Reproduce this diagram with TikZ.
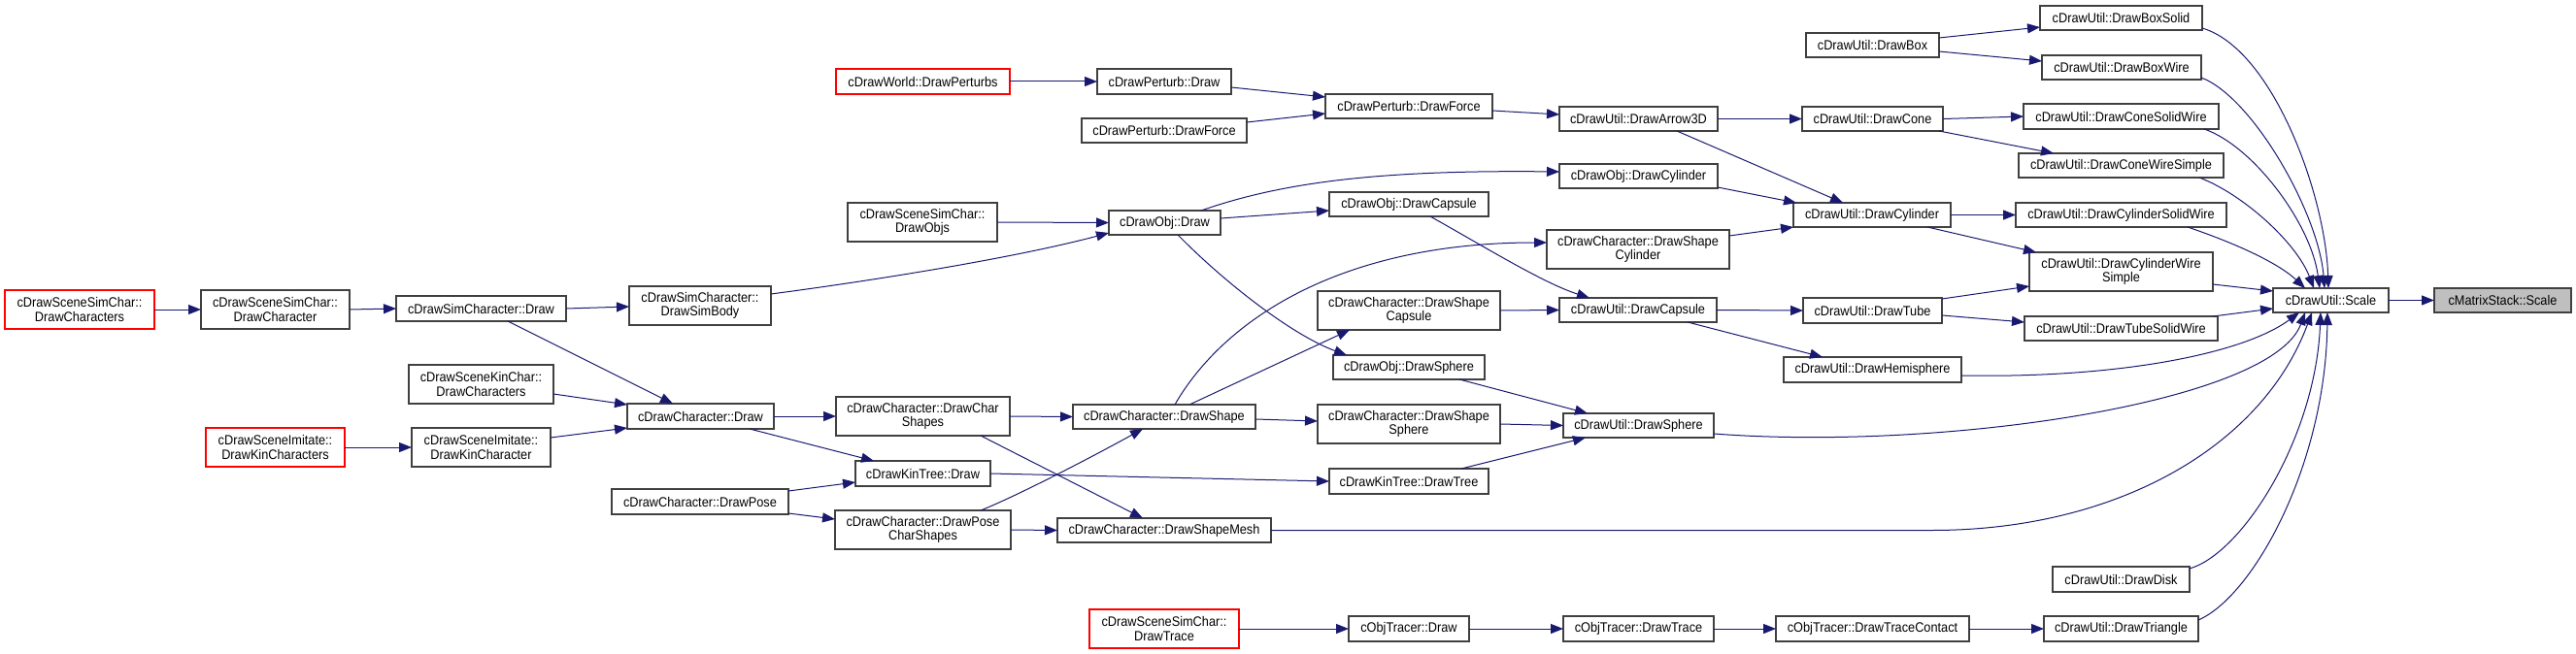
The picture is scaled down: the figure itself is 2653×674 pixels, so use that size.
\documentclass[tikz,border=0pt]{standalone}
\usepackage{fontspec}
\setmainfont{Liberation Sans}[FakeStretch=0.91]
\usetikzlibrary{arrows.meta,calc}
\definecolor{edgecol}{HTML}{191970}
\definecolor{boxcol}{HTML}{404040}
\definecolor{grayfill}{HTML}{BFBFBF}
\tikzset{
  fn/.style={draw=boxcol, line width=1.2pt, fill=white, inner sep=1pt, outer sep=0pt,
    align=center, font=\fontsize{14}{14.5}\selectfont, text=black},
  fnred/.style={fn, draw=red},
  fncur/.style={fn, fill=grayfill},
  call/.style={draw=edgecol, line width=1pt, -{Triangle[length=13pt,width=10pt]}},
}
\newcommand\gbox[7]{\node[#1, minimum width={(#5-#3)*1pt}, minimum height={(#6-#4)*1pt}] (#2) at ({(#3+#5)/2},{(#4+#6)/2}) {#7};}
\begin{document}
\begin{tikzpicture}[x=1pt,y=-1pt]
\useasboundingbox (0,0) rectangle (2653,674);
% nodes
\gbox{fnred}{sscChars}{5}{299}{159}{339}{cDrawSceneSimChar::\\DrawCharacters}
\gbox{fn}{sscChar}{207}{299}{360}{339}{cDrawSceneSimChar::\\DrawCharacter}
\gbox{fn}{simDraw}{408}{305}{583}{331}{cDrawSimCharacter::Draw}
\gbox{fn}{simBody}{648}{295}{794}{335}{cDrawSimCharacter::\\DrawSimBody}
\gbox{fnred}{perturbs}{861}{71}{1040}{97}{cDrawWorld::DrawPerturbs}
\gbox{fn}{objs}{873}{209}{1027}{249}{cDrawSceneSimChar::\\DrawObjs}
\gbox{fn}{kinChars}{421}{376}{570}{416}{cDrawSceneKinChar::\\DrawCharacters}
\gbox{fnred}{imKinChars}{212}{441}{355}{481}{cDrawSceneImitate::\\DrawKinCharacters}
\gbox{fn}{imKinChar}{424}{441}{567}{481}{cDrawSceneImitate::\\DrawKinCharacter}
\gbox{fn}{chDraw}{646}{416}{797}{442}{cDrawCharacter::Draw}
\gbox{fn}{pose}{630}{504}{812}{530}{cDrawCharacter::DrawPose}
\gbox{fn}{charShapes}{861}{409}{1040}{449}{cDrawCharacter::DrawChar\\Shapes}
\gbox{fn}{kinDraw}{881}{475}{1020}{501}{cDrawKinTree::Draw}
\gbox{fn}{poseShapes}{860}{526}{1041}{566}{cDrawCharacter::DrawPose\\CharShapes}
\gbox{fn}{pDraw}{1130}{71}{1268}{97}{cDrawPerturb::Draw}
\gbox{fn}{force1}{1114}{122}{1284}{147}{cDrawPerturb::DrawForce}
\gbox{fn}{objDraw}{1142}{217}{1257}{242}{cDrawObj::Draw}
\gbox{fn}{shape}{1105}{417}{1293}{442}{cDrawCharacter::DrawShape}
\gbox{fn}{mesh}{1089}{534}{1309}{559}{cDrawCharacter::DrawShapeMesh}
\gbox{fnred}{trace}{1122}{628}{1276}{668}{cDrawSceneSimChar::\\DrawTrace}
\gbox{fn}{force2}{1365}{97}{1537}{122}{cDrawPerturb::DrawForce}
\gbox{fn}{objCapsule}{1369}{198}{1533}{223}{cDrawObj::DrawCapsule}
\gbox{fn}{shCapsule}{1357}{300}{1545}{340}{cDrawCharacter::DrawShape\\Capsule}
\gbox{fn}{objSphere}{1373}{366}{1529}{391}{cDrawObj::DrawSphere}
\gbox{fn}{shSphere}{1357}{417}{1545}{457}{cDrawCharacter::DrawShape\\Sphere}
\gbox{fn}{drawTree}{1369}{483}{1533}{509}{cDrawKinTree::DrawTree}
\gbox{fn}{otDraw}{1389}{635}{1513}{661}{cObjTracer::Draw}
\gbox{fn}{arrow3D}{1606}{110}{1769}{135}{cDrawUtil::DrawArrow3D}
\gbox{fn}{objCyl}{1606}{169}{1769}{194}{cDrawObj::DrawCylinder}
\gbox{fn}{shCyl}{1593}{237}{1781}{277}{cDrawCharacter::DrawShape\\Cylinder}
\gbox{fn}{uCapsule}{1606}{307}{1768}{332}{cDrawUtil::DrawCapsule}
\gbox{fn}{uSphere}{1610}{426}{1765}{451}{cDrawUtil::DrawSphere}
\gbox{fn}{otTrace}{1610}{635}{1765}{661}{cObjTracer::DrawTrace}
\gbox{fn}{uBox}{1860}{34}{1997}{59}{cDrawUtil::DrawBox}
\gbox{fn}{uCone}{1856}{110}{2001}{135}{cDrawUtil::DrawCone}
\gbox{fn}{uCyl}{1847}{209}{2009}{234}{cDrawUtil::DrawCylinder}
\gbox{fn}{uTube}{1857}{307}{2000}{333}{cDrawUtil::DrawTube}
\gbox{fn}{uHemi}{1837}{368}{2020}{394}{cDrawUtil::DrawHemisphere}
\gbox{fn}{traceContact}{1829}{635}{2028}{661}{cObjTracer::DrawTraceContact}
\gbox{fn}{boxSolid}{2101}{6}{2268}{31}{cDrawUtil::DrawBoxSolid}
\gbox{fn}{boxWire}{2103}{57}{2267}{82}{cDrawUtil::DrawBoxWire}
\gbox{fn}{coneSolid}{2084}{107}{2285}{133}{cDrawUtil::DrawConeSolidWire}
\gbox{fn}{coneWS}{2079}{158}{2290}{183}{cDrawUtil::DrawConeWireSimple}
\gbox{fn}{cylSolid}{2076}{209}{2293}{234}{cDrawUtil::DrawCylinderSolidWire}
\gbox{fn}{cylWS}{2090}{260}{2279}{300}{cDrawUtil::DrawCylinderWire\\Simple}
\gbox{fn}{tubeSolid}{2085}{326}{2284}{351}{cDrawUtil::DrawTubeSolidWire}
\gbox{fn}{disk}{2114}{584}{2255}{610}{cDrawUtil::DrawDisk}
\gbox{fn}{triangle}{2105}{635}{2264}{661}{cDrawUtil::DrawTriangle}
\gbox{fn}{scale}{2341}{297}{2460}{322}{cDrawUtil::Scale}
\gbox{fncur}{mscale}{2507}{297}{2648}{322}{cMatrixStack::Scale}
% edges
\draw[call] (sscChars.east) -- (sscChar.west);
\draw[call] (sscChar.east) -- (simDraw.west);
\draw[call] (simDraw.east) -- ($(simBody.north west)+(0,21)$);
\draw[call] ($(simDraw.north west)+(115,26)$) -- ($(chDraw.north west)+(47,0)$);
\draw[call] ($(simBody.north west)+(146,8)$) .. controls (930,285) and (1060,262) .. ($(objDraw.north west)+(0,23)$);
\draw[call] ($(kinChars.north west)+(149,30)$) -- ($(chDraw.north west)+(0,1)$);
\draw[call] ($(imKinChar.north west)+(143,10)$) -- ($(chDraw.north west)+(0,25)$);
\draw[call] (imKinChars.east) -- (imKinChar.west);
\draw[call] (chDraw.east) -- (charShapes.west);
\draw[call] ($(chDraw.north west)+(126,26)$) -- ($(kinDraw.north west)+(19,0)$);
\draw[call] ($(pose.north west)+(182,2)$) -- ($(kinDraw.north west)+(0,22)$);
\draw[call] ($(pose.north west)+(182,25)$) -- ($(poseShapes.north west)+(0,9)$);
\draw[call] (charShapes.east) -- (shape.west);
\draw[call] ($(charShapes.north west)+(149,40)$) -- ($(mesh.north west)+(88,0)$);
\draw[call] ($(poseShapes.north west)+(150,0)$) .. controls (1050,510) and (1130,468) .. ($(shape.north west)+(72,25)$);
\draw[call] (poseShapes.east) -- (mesh.west);
\draw[call] (kinDraw.east) -- (drawTree.west);
\draw[call] (mesh.east) -- (1990,546.5) .. controls (2180,546.5) and (2330,460) .. ($(scale.north west)+(40,25)$);
\draw[call] ($(shape.north west)+(105,0)$) .. controls (1260,330) and (1380,250) .. ($(shCyl.north west)+(0,13)$);
\draw[call] ($(shape.north west)+(120,0)$) -- ($(shCapsule.north west)+(33,40)$);
\draw[call] ($(shape.north west)+(188,15)$) -- ($(shSphere.north west)+(0,17)$);
\draw[call] (perturbs.east) -- (pDraw.west);
\draw[call] ($(pDraw.north west)+(138,19)$) -- ($(force2.north west)+(0,3)$);
\draw[call] ($(force1.north west)+(170,4)$) -- ($(force2.north west)+(0,20)$);
\draw[call] ($(force2.north west)+(172,17)$) -- ($(arrow3D.north west)+(0,8)$);
\draw[call] (objs.east) -- (objDraw.west);
\draw[call] ($(objDraw.north west)+(95,0)$) .. controls (1320,188) and (1420,175) .. ($(objCyl.north west)+(0,8)$);
\draw[call] ($(objDraw.north west)+(115,8)$) -- ($(objCapsule.north west)+(0,19)$);
\draw[call] ($(objDraw.north west)+(71,25)$) .. controls (1260,290) and (1330,345) .. ($(objSphere.north west)+(14,0)$);
\draw[call] ($(objCapsule.north west)+(104,25)$) .. controls (1530,255) and (1590,292) .. ($(uCapsule.north west)+(31,0)$);
\draw[call] (shCapsule.east) -- (uCapsule.west);
\draw[call] (arrow3D.east) -- (uCone.west);
\draw[call] ($(arrow3D.north west)+(121,25)$) -- ($(uCyl.north west)+(51,0)$);
\draw[call] ($(objCyl.north west)+(163,24)$) -- ($(uCyl.north west)+(3,0)$);
\draw[call] ($(shCyl.north west)+(188,6)$) -- ($(uCyl.north west)+(0,25)$);
\draw[call] (uCapsule.east) -- (uTube.west);
\draw[call] ($(uCapsule.north west)+(132,25)$) -- ($(uHemi.north west)+(40,0)$);
\draw[call] ($(objSphere.north west)+(130,25)$) -- ($(uSphere.north west)+(25,0)$);
\draw[call] (shSphere.east) -- (uSphere.west);
\draw[call] ($(drawTree.north west)+(136,0)$) -- ($(uSphere.north west)+(23,25)$);
\draw[call] ($(uSphere.north west)+(155,21)$) .. controls (2000,465) and (2340,415) .. ($(scale.north west)+(33,25)$);
\draw[call] (trace.east) -- (otDraw.west);
\draw[call] (otDraw.east) -- (otTrace.west);
\draw[call] (otTrace.east) -- (traceContact.west);
\draw[call] (traceContact.east) -- (triangle.west);
\draw[call] ($(triangle.north west)+(159,4)$) .. controls (2320,615) and (2395,480) .. ($(scale.north west)+(56,25)$);
\draw[call] ($(disk.north west)+(141,2)$) .. controls (2310,570) and (2385,450) .. ($(scale.north west)+(49,25)$);
\draw[call] ($(uHemi.north west)+(183,19)$) .. controls (2180,390) and (2310,365) .. ($(scale.north west)+(27,25)$);
\draw[call] ($(uTube.north west)+(143,1)$) -- ($(cylWS.north west)+(0,35)$);
\draw[call] ($(uTube.north west)+(143,18)$) -- ($(tubeSolid.north west)+(0,6)$);
\draw[call] (uCyl.east) -- (cylSolid.west);
\draw[call] ($(uCyl.north west)+(138,25)$) -- ($(cylWS.north west)+(7,0)$);
\draw[call] (uCone.east) -- (coneSolid.west);
\draw[call] ($(uCone.north west)+(141,25)$) -- ($(coneWS.north west)+(36,0)$);
\draw[call] ($(uBox.north west)+(137,5)$) -- ($(boxSolid.north west)+(0,22)$);
\draw[call] ($(uBox.north west)+(137,19)$) -- ($(boxWire.north west)+(0,6)$);
\draw[call] ($(boxSolid.north west)+(167,23)$) .. controls (2340,50) and (2395,200) .. ($(scale.north west)+(57,0)$);
\draw[call] ($(boxWire.north west)+(164,23)$) .. controls (2320,100) and (2388,220) .. ($(scale.north west)+(53,0)$);
\draw[call] ($(coneSolid.north west)+(186,26)$) .. controls (2320,150) and (2380,230) .. ($(scale.north west)+(48,0)$);
\draw[call] ($(coneWS.north west)+(186,25)$) .. controls (2310,200) and (2365,250) .. ($(scale.north west)+(42,0)$);
\draw[call] ($(cylSolid.north west)+(177,25)$) .. controls (2300,250) and (2345,270) .. ($(scale.north west)+(33,0)$);
\draw[call] ($(cylWS.north west)+(189,33)$) -- ($(scale.north west)+(0,3)$);
\draw[call] ($(tubeSolid.north west)+(194,0)$) -- ($(scale.north west)+(0,21)$);
\draw[call] (scale.east) -- (mscale.west);
\end{tikzpicture}
\end{document}
